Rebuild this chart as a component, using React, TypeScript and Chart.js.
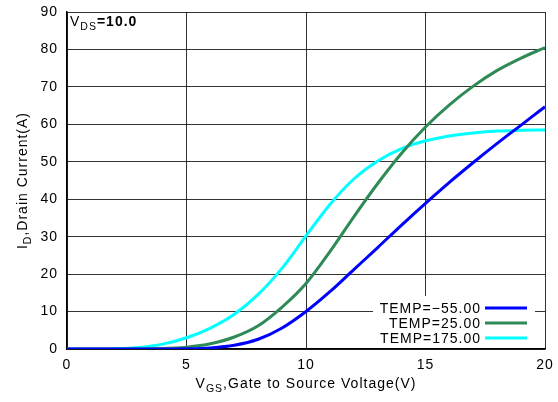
import React, { useEffect, useRef } from "react";
import { Chart, registerables } from "chart.js";

Chart.register(...registerables);

const vgs = [0, 1, 2, 3, 4, 5, 6, 7, 8, 9, 10, 11, 12, 13, 14, 15, 16, 17, 18, 19, 20];
const idM55 = [0, 0, 0, 0, 0.01, 0.06, 0.3, 1.0, 2.6, 5.6, 10, 15.3, 21.2, 27.1, 33.1, 38.9, 44.5, 49.8, 54.9, 59.8, 64.7];
const id25 = [0, 0, 0, 0.02, 0.12, 0.5, 1.4, 3.2, 6.2, 11.2, 17.5, 26, 35.3, 44.2, 52.3, 59.3, 65.2, 70.2, 74.4, 77.7, 80.5];
const id175 = [0, 0.01, 0.08, 0.4, 1.3, 3.0, 5.6, 9.3, 14.6, 21.6, 30.2, 38.6, 45.4, 50.2, 53.5, 55.6, 56.9, 57.7, 58.2, 58.4, 58.5];

const seriesLabels = ["TEMP=\u221255.00", "TEMP=25.00", "TEMP=175.00"];
const seriesColors = ["#0000ff", "#2e8b57", "#00ffff"];
const xTicks = [0, 5, 10, 15, 20];
const yTicks = [0, 10, 20, 30, 40, 50, 60, 70, 80, 90];

const FONT = "Liberation Sans, Arial, Helvetica, sans-serif";

type Seg = { t: string; sub?: boolean; bold?: boolean };

function drawSegs(ctx: CanvasRenderingContext2D, segs: Seg[], x: number, y: number, size: number, align: "left" | "center") {
  const fontFor = (s: Seg) => `${s.bold ? "bold " : ""}${s.sub ? size * 0.75 : size}px ${FONT}`;
  let total = 0;
  for (const s of segs) {
    ctx.font = fontFor(s);
    total += ctx.measureText(s.t).width;
  }
  let cx = align === "center" ? x - total / 2 : x;
  ctx.textAlign = "left";
  ctx.textBaseline = "alphabetic";
  for (const s of segs) {
    ctx.font = fontFor(s);
    ctx.fillText(s.t, cx, s.sub ? y + size * 0.3 : y);
    cx += ctx.measureText(s.t).width;
  }
}

const spacingPlugin = {
  id: "spacing",
  beforeLayout(chart: any) {
    chart.ctx.letterSpacing = "1px";
  },
  beforeDraw(chart: any) {
    chart.ctx.letterSpacing = "1px";
  },
};

const decorPlugin = {
  id: "decor",
  afterDraw(chart: any) {
    const ctx: CanvasRenderingContext2D = chart.ctx;
    const area = chart.chartArea;
    ctx.save();
    ctx.letterSpacing = "1px";
    ctx.fillStyle = "#000";
    drawSegs(ctx, [{ t: "V" }, { t: "DS", sub: true }, { t: "=10.0", bold: true }], area.left + 3, area.top + 14, 14, "left");
    drawSegs(ctx, [{ t: "V" }, { t: "GS", sub: true }, { t: ",Gate to Source Voltage(V)" }], (area.left + area.right) / 2, 388, 14, "center");
    ctx.save();
    ctx.translate(27, (area.top + area.bottom) / 2);
    ctx.rotate(-Math.PI / 2);
    drawSegs(ctx, [{ t: "I" }, { t: "D", sub: true }, { t: ",Drain Current(A)" }], 0, 0, 14, "center");
    ctx.restore();
    const bx = 373, by = 296, bw = area.right - 10 - bx, bh = area.bottom - by - 1;
    ctx.fillStyle = "#fff";
    ctx.fillRect(bx, by, bw, bh);
    const rows = [308, 323, 338];
    ctx.font = `14px ${FONT}`;
    ctx.textAlign = "right";
    ctx.textBaseline = "middle";
    rows.forEach((ry, i) => {
      ctx.fillStyle = "#000";
      ctx.fillText(seriesLabels[i], 481, ry + 1);
      ctx.strokeStyle = seriesColors[i];
      ctx.lineWidth = 3;
      ctx.beginPath();
      ctx.moveTo(485, ry);
      ctx.lineTo(527, ry);
      ctx.stroke();
    });
    ctx.restore();
  },
};

export default function App() {
  const ref = useRef<HTMLCanvasElement | null>(null);
  useEffect(() => {
    if (!ref.current) return;
    const mk = (ys: number[], i: number) => ({
      label: seriesLabels[i],
      data: vgs.map((x, k) => ({ x, y: ys[k] })),
      borderColor: seriesColors[i],
      backgroundColor: seriesColors[i],
      borderWidth: 3,
      pointRadius: 0,
      cubicInterpolationMode: "monotone" as const,
      fill: false,
    });
    const chart = new Chart(ref.current, {
      type: "line",
      data: { datasets: [mk(idM55, 0), mk(id25, 1), mk(id175, 2)] },
      options: {
        animation: false,
        responsive: false,
        layout: { padding: { left: 0, top: 12, right: 13, bottom: 0 } },
        plugins: { legend: { display: false }, tooltip: { enabled: false } },
        scales: {
          x: {
            type: "linear",
            min: 0,
            max: 20,
            afterBuildTicks: (s: any) => {
              s.ticks = xTicks.map((v) => ({ value: v }));
            },
            afterFit: (s: any) => {
              s.height = 53;
              s.paddingLeft = 0;
              s.paddingRight = 0;
            },
            grid: { color: "rgba(0,0,0,0.8)", lineWidth: 1, drawTicks: false },
            border: { color: "#000", width: 1.5 },
            ticks: { color: "#000", font: { family: FONT, size: 14 }, padding: 8, maxRotation: 0 },
          },
          y: {
            type: "linear",
            min: 0,
            max: 90,
            afterBuildTicks: (s: any) => {
              s.ticks = yTicks.map((v) => ({ value: v }));
            },
            afterFit: (s: any) => {
              s.width = 67;
              s.paddingTop = 0;
              s.paddingBottom = 0;
            },
            grid: { color: "rgba(0,0,0,0.8)", lineWidth: 1, drawTicks: false },
            border: { color: "#000", width: 1.5 },
            ticks: { color: "#000", font: { family: FONT, size: 14 }, padding: 9 },
          },
        },
      },
      plugins: [spacingPlugin, decorPlugin],
    });
    return () => chart.destroy();
  }, []);
  return (
    <div style={{ position: "absolute", left: 0, top: 0, width: 558, height: 402, background: "#fff" }}>
      <canvas ref={ref} width={558} height={402} />
    </div>
  );
}
